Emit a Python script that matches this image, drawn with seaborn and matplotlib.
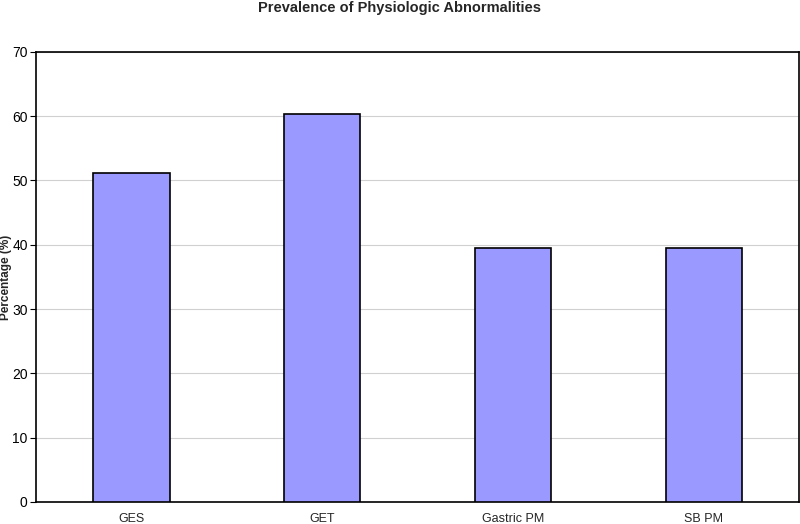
import matplotlib
matplotlib.use("Agg")
import matplotlib.pyplot as plt
import seaborn as sns
import pandas as pd

# --- data ---
categories = ["GES", "GET", "Gastric PM", "SB PM"]
percentages = [51.2, 60.4, 39.5, 39.5]

df = pd.DataFrame({"category": categories, "pct": percentages})

sns.set_style("white")
plt.rcParams['font.family'] = ['Liberation Sans', 'DejaVu Sans']

fig = plt.figure(figsize=(8, 5.24), dpi=100)
ax = fig.add_axes([0.045, 0.042, 0.954, 0.859])

sns.barplot(data=df, x="category", y="pct", color="#9999FF", saturation=1,
            width=0.4, edgecolor="black", linewidth=1.2, ax=ax, zorder=3)

ax.set_ylim(0, 70)
ax.set_yticks(range(0, 71, 10))
ax.yaxis.grid(True, color="#d0d0d0", linewidth=0.8, zorder=0)
ax.set_axisbelow(True)

for s in ax.spines.values():
    s.set_color("black")
    s.set_linewidth(1.2)

ax.tick_params(axis="y", direction="out", length=4, width=0.8, labelsize=10, pad=2,
               left=True, colors="black")
ax.tick_params(axis="x", length=0, labelsize=9, pad=8)

ax.set_xlabel("")
ax.set_ylabel("")
# y label sits right at the figure edge, as in the original
fig.text(0.0, 0.4714, "Percentage (%)", rotation=90, ha="left", va="center",
         fontsize=8.5, fontweight="bold")
fig.suptitle("Prevalence of Physiologic Abnormalities", fontsize=10.5,
             fontweight="bold", y=0.998, va="top")

fig.savefig("out.png", dpi=100)
